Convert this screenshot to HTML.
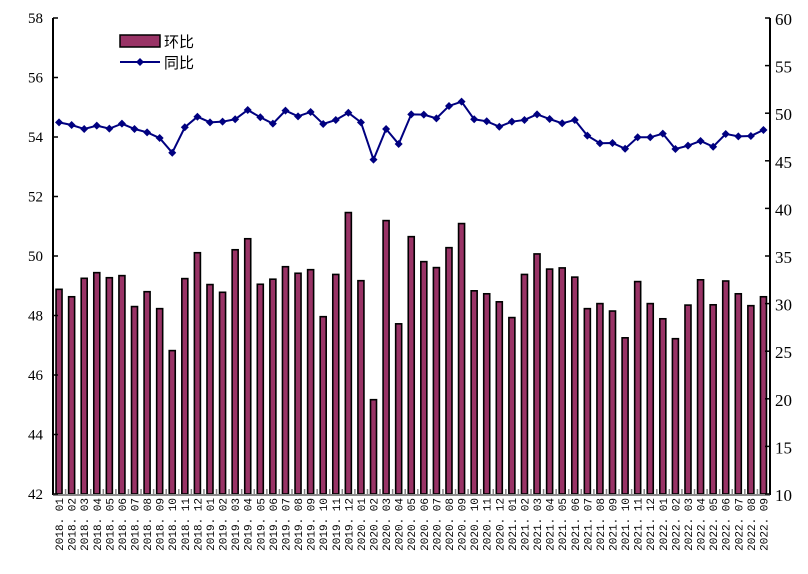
<!DOCTYPE html>
<html><head><meta charset="utf-8"><style>
html,body{margin:0;padding:0;background:#fff;}
svg{display:block;font-family:"Liberation Serif","Noto Serif CJK SC",serif;}
</style></head><body>
<svg id="chart" width="808" height="574" viewBox="0 0 808 574" xmlns="http://www.w3.org/2000/svg"></svg>
<script>
const categories = ["2018.01","2018.02","2018.03","2018.04","2018.05","2018.06","2018.07","2018.08","2018.09","2018.10","2018.11","2018.12","2019.01","2019.02","2019.03","2019.04","2019.05","2019.06","2019.07","2019.08","2019.09","2019.10","2019.11","2019.12","2020.01","2020.02","2020.03","2020.04","2020.05","2020.06","2020.07","2020.08","2020.09","2020.10","2020.11","2020.12","2021.01","2021.02","2021.03","2021.04","2021.05","2021.06","2021.07","2021.08","2021.09","2021.10","2021.11","2021.12","2022.01","2022.02","2022.03","2022.04","2022.05","2022.06","2022.07","2022.08","2022.09"];
const momValues = [48.88,48.63,49.25,49.44,49.27,49.34,48.30,48.80,48.23,46.82,49.24,50.11,49.04,48.78,50.21,50.58,49.05,49.22,49.64,49.42,49.54,47.96,49.38,51.46,49.17,45.17,51.19,47.72,50.65,49.81,49.61,50.28,51.09,48.83,48.73,48.46,47.93,49.38,50.07,49.56,49.60,49.29,48.23,48.40,48.15,47.25,49.14,48.40,47.89,47.22,48.35,49.20,48.36,49.16,48.73,48.33,48.63];
const yoyValues = [49.04,48.76,48.34,48.69,48.38,48.90,48.34,47.99,47.39,45.85,48.52,49.63,49.04,49.11,49.36,50.34,49.57,48.90,50.27,49.67,50.13,48.87,49.29,50.05,49.04,45.12,48.34,46.76,49.88,49.85,49.46,50.76,51.21,49.36,49.15,48.58,49.11,49.29,49.88,49.39,48.94,49.29,47.64,46.84,46.87,46.27,47.47,47.47,47.85,46.24,46.59,47.08,46.48,47.82,47.57,47.61,48.24];
const leftTicks = [42,44,46,48,50,52,54,56,58];
const rightTicks = [10,15,20,25,30,35,40,45,50,55,60];

const NS="http://www.w3.org/2000/svg";
const svg=document.getElementById('chart');
const X0=53,X1=770,Y0=18,Y1=494;
const band=(X1-X0)/categories.length;
const yL=v=>Y1-(v-42)/(58-42)*(Y1-Y0);
const yR=v=>Y1-(v-10)/(60-10)*(Y1-Y0);
const xC=i=>X0+band*(i+0.48);
function mk(tag,attrs,parent){const e=document.createElementNS(NS,tag);for(const k in attrs)e.setAttribute(k,attrs[k]);(parent||svg).appendChild(e);return e;}

// bars
const gb=mk('g',{});


momValues.forEach((v,i)=>{
  const y=yL(v);
  const r=mk('rect',{x:xC(i)-3,y:y,width:6,height:Y1-y,fill:'#993366',stroke:'#000','stroke-width':1.6},gb);
  
  
});

// axes
const ax=mk('g',{});


mk('line',{x1:X0,y1:Y0,x2:X0,y2:Y1+1,stroke:'#000','stroke-width':2},ax);
mk('line',{x1:X1,y1:Y0,x2:X1,y2:Y1+1,stroke:'#000','stroke-width':2},ax);
mk('line',{x1:X0,y1:Y1+1,x2:X1,y2:Y1+1,stroke:'#888','stroke-width':2},ax);
for(let i=1;i<categories.length;i++){const x=X0+band*i;mk('line',{x1:x,y1:Y1-5,x2:x,y2:Y1,stroke:'#888','stroke-width':1.5},ax);}
leftTicks.forEach(t=>{
  const y=yL(t);
  mk('line',{x1:X0,y1:y,x2:X0+5,y2:y,stroke:'#000','stroke-width':1.5},ax);
  const tx=mk('text',{x:X0-10,y:y+5,'text-anchor':'end','font-size':15,fill:'#000'},ax);
  tx.textContent=t;
  
  
});
rightTicks.forEach(t=>{
  const y=yR(t);
  mk('line',{x1:X1-5,y1:y,x2:X1,y2:y,stroke:'#000','stroke-width':1.5},ax);
  const tx=mk('text',{x:X1+5,y:y+7,'text-anchor':'start','font-size':17,fill:'#000'},ax);
  tx.textContent=t;
  
  
});
categories.forEach((c,i)=>{
  const x=xC(i)+4;
  const tx=mk('text',{x:x,y:498,transform:`rotate(-90 ${x} 498)`,'text-anchor':'end','font-size':11,fill:'#000','font-family':'Liberation Mono, monospace'},ax);
  tx.textContent=c.replace('.','. ');
  
  
});

// line
const gl=mk('g',{});


mk('polyline',{points:yoyValues.map((v,i)=>xC(i)+','+yR(v)).join(' '),fill:'none',stroke:'#000080','stroke-width':2},gl);
yoyValues.forEach((v,i)=>{
  const x=xC(i),y=yR(v);
  const p=mk('polygon',{points:`${x},${y-4} ${x+4},${y} ${x},${y+4} ${x-4},${y}`,fill:'#000080'},gl);
  
  
});
</script>
<svg style="position:absolute;left:0;top:0" width="808" height="574">
  <g>
    <rect x="120" y="35" width="40" height="12" fill="#993366" stroke="#000" stroke-width="1.5"/>
    <text x="164" y="47" font-size="15" font-family="Liberation Sans, Noto Sans CJK SC, sans-serif">环比</text>
  </g>
  <g>
    <line x1="120" y1="62" x2="160" y2="62" stroke="#000080" stroke-width="2"/>
    <polygon points="140,58 144,62 140,66 136,62" fill="#000080"/>
    <text x="164" y="68" font-size="15" font-family="Liberation Sans, Noto Sans CJK SC, sans-serif">同比</text>
  </g>
</svg>
</body></html>
